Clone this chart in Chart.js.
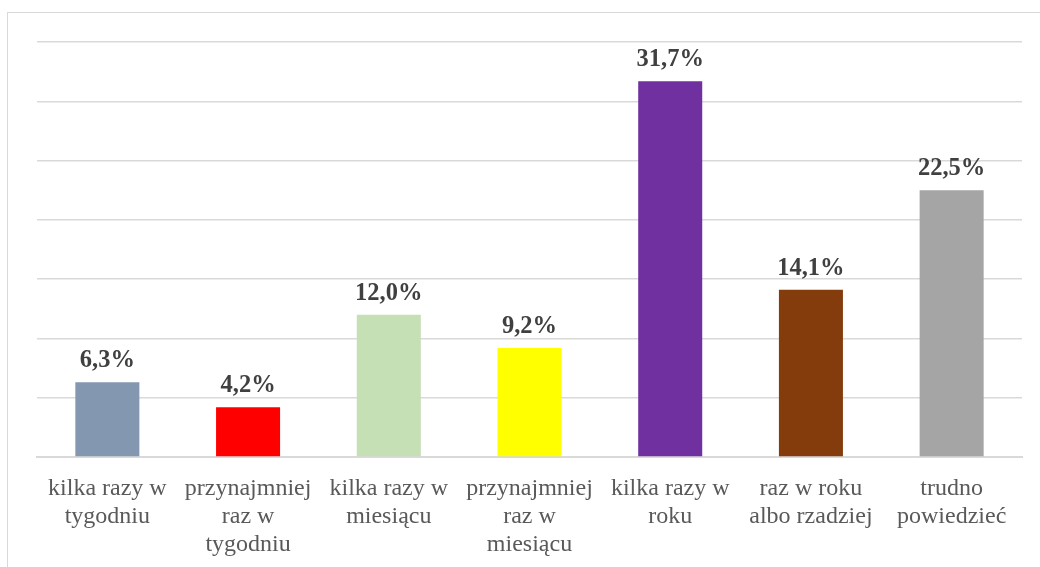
<!DOCTYPE html>
<html><head><meta charset="utf-8">
<script src="https://cdn.jsdelivr.net/npm/chart.js@4"></script>
<style>
html,body{margin:0;padding:0;background:#fff;}
#wrap{position:relative;width:1040px;height:567px;overflow:hidden;}
#frame{position:absolute;left:7px;top:12px;width:1100px;height:600px;border:1.5px solid #d9d9d9;box-sizing:border-box;}
canvas{position:absolute;left:0;top:0;}
</style></head>
<body>
<div id="wrap"><div id="frame"></div><canvas id="c" width="1040" height="567"></canvas></div>
<script>
const categories = [
  ["kilka razy w","tygodniu"],
  ["przynajmniej","raz w","tygodniu"],
  ["kilka razy w","miesiącu"],
  ["przynajmniej","raz w","miesiącu"],
  ["kilka razy w","roku"],
  ["raz w roku","albo rzadziej"],
  ["trudno","powiedzieć"]
];
const values = [6.3, 4.2, 12.0, 9.2, 31.7, 14.1, 22.5];
const valueLabels = ["6,3%","4,2%","12,0%","9,2%","31,7%","14,1%","22,5%"];
const barColors = ["#8497B0","#FF0000","#C5E0B4","#FFFF00","#7030A0","#843C0C","#A5A5A5"];

const dataLabels = {
  id:'dataLabels',
  afterDatasetsDraw(chart){
    const ctx = chart.ctx;
    const meta = chart.getDatasetMeta(0);
    ctx.save();
    ctx.font = 'bold 24.5px "Liberation Serif", "Times New Roman", serif';
    ctx.fillStyle = '#404040';
    ctx.textAlign = 'center';
    ctx.textBaseline = 'alphabetic';
    meta.data.forEach((bar,i)=>{
      ctx.fillText(valueLabels[i], bar.x, bar.y - 15);
    });
    ctx.restore();
  }
};

new Chart(document.getElementById('c'), {
  type:'bar',
  data:{labels:categories, datasets:[{data:values, backgroundColor:barColors, barPercentage:0.455, categoryPercentage:1}]},
  options:{
    responsive:false, animation:false,
    layout:{padding:{left:37,right:18,top:42,bottom:0}},
    plugins:{legend:{display:false},tooltip:{enabled:false}},
    scales:{
      x:{
        grid:{display:false, drawTicks:false},
        border:{display:true,color:'#d9d9d9',width:2},
        ticks:{color:'#595959',font:{family:'"Liberation Serif", "Times New Roman", serif',size:24,lineHeight:1.16},padding:18,maxRotation:0,autoSkip:false},
        afterFit(s){s.height=110;}
      },
      y:{
        min:0,max:35,
        ticks:{display:false,stepSize:5},
        grid:{color:'#d9d9d9',lineWidth:1.5,drawTicks:false},
        border:{display:false},
        afterFit(s){s.width=0;}
      }
    }
  },
  plugins:[dataLabels]
});
</script>
</body></html>
